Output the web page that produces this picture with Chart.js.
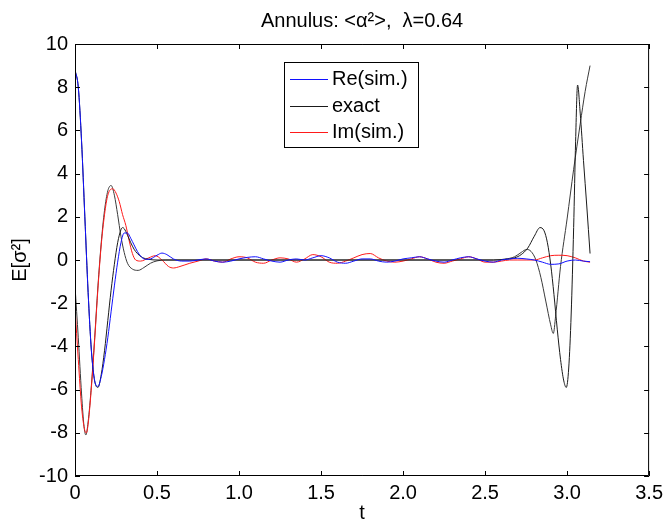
<!DOCTYPE html>
<html>
<head>
<meta charset="utf-8">
<title>Annulus</title>
<script src="https://cdn.jsdelivr.net/npm/chart.js@4/dist/chart.umd.min.js"></script>
<style>
  html, body { margin: 0; padding: 0; background: #fff; }
  canvas { display: block; }
</style>
</head>
<body>
<canvas id="chart" width="668" height="528"></canvas>
<script>
// values
const TITLE = 'Annulus: <α²>,  λ=0.64';
const X_LABEL = 't';
const Y_LABEL = 'E[σ²]';
const X_TICKS = [0, 0.5, 1, 1.5, 2, 2.5, 3, 3.5];
const Y_TICKS = [-10, -8, -6, -4, -2, 0, 2, 4, 6, 8, 10];

const reSimT = [0, 0.02, 0.04, 0.06, 0.08, 0.10, 0.12, 0.14, 0.16, 0.18, 0.20, 0.22, 0.24, 0.26, 0.28, 0.30,
  0.32, 0.34, 0.36, 0.38, 0.40, 0.43, 0.46, 0.50, 0.53, 0.56, 0.60, 0.65, 0.70, 0.75, 0.80, 0.85, 0.90, 0.95,
  1.00, 1.05, 1.10, 1.15, 1.20, 1.25, 1.30, 1.35, 1.40, 1.45, 1.50, 1.55, 1.60, 1.65, 1.70, 1.75, 1.80, 1.85,
  1.90, 1.95, 2.00, 2.05, 2.10, 2.15, 2.20, 2.25, 2.30, 2.35, 2.40, 2.45, 2.50, 2.55, 2.60, 2.65, 2.70, 2.75,
  2.80, 2.85, 2.90, 2.95, 3.00, 3.05, 3.10, 3.14];
const reSimVals = [8.8, 8.0, 5.5, 2.0, -1.5, -4.2, -5.6, -5.85, -5.4, -4.6, -3.6, -2.4, -1.2, -0.1, 0.8, 1.25,
  1.25, 1.0, 0.7, 0.4, 0.18, 0.03, 0.05, 0.22, 0.32, 0.25, 0.05, -0.05, -0.05, 0.0, 0.05, -0.05, -0.1, -0.05,
  0.05, 0.12, 0.15, 0.05, -0.05, -0.1, 0.0, 0.05, 0.0, 0.1, 0.2, 0.1, -0.1, -0.15, -0.05, 0.05, 0.05, -0.05,
  -0.1, -0.05, 0.05, 0.1, 0.15, 0.05, -0.05, -0.1, 0.0, 0.1, 0.15, 0.05, -0.05, -0.1, 0.0, 0.05, 0.08, 0.05,
  0.0, -0.1, -0.2, -0.18, -0.05, 0.0, -0.05, -0.08];

const exactReT = [0, 0.02, 0.04, 0.06, 0.08, 0.10, 0.12, 0.14, 0.16, 0.18, 0.20, 0.22, 0.24, 0.26, 0.28, 0.29,
  0.30, 0.32, 0.34, 0.36, 0.38, 0.41, 0.45, 0.50, 2.55, 2.62, 2.68, 2.72, 2.76, 2.80, 2.835, 2.86, 2.88, 2.90,
  2.92, 2.94, 2.96, 2.98, 2.995, 3.01, 3.025, 3.04, 3.052, 3.064, 3.08, 3.10, 3.12, 3.14];
const exactReVals = [8.8, 8.0, 5.5, 2.0, -1.5, -4.2, -5.6, -5.9, -5.3, -4.2, -2.8, -1.4, -0.2, 0.8, 1.4, 1.5,
  1.45, 1.15, 0.8, 0.5, 0.3, 0.12, 0.03, 0.0, 0.0, 0.03, 0.1, 0.25, 0.55, 1.1, 1.5, 1.35, 0.8, -0.2,
  -1.6, -3.2, -4.6, -5.6, -5.9, -5.0, -2.5, 1.5, 5.5, 8.1, 6.8, 4.6, 2.5, 0.3];

const imSimT = [0, 0.02, 0.04, 0.06, 0.07, 0.08, 0.10, 0.12, 0.14, 0.16, 0.18, 0.20, 0.23, 0.25, 0.27, 0.29,
  0.31, 0.33, 0.35, 0.37, 0.40, 0.45, 0.49, 0.53, 0.57, 0.60, 0.64, 0.70, 0.75, 0.80, 0.85, 0.90, 0.95, 1.00,
  1.05, 1.10, 1.15, 1.20, 1.25, 1.30, 1.35, 1.40, 1.45, 1.50, 1.55, 1.60, 1.65, 1.70, 1.75, 1.80, 1.85, 1.90,
  1.95, 2.00, 2.05, 2.10, 2.15, 2.20, 2.25, 2.30, 2.35, 2.40, 2.45, 2.50, 2.55, 2.60, 2.65, 2.70, 2.75, 2.80,
  2.85, 2.90, 2.95, 3.00, 3.05, 3.10, 3.14];
const imSimVals = [-2.2, -4.6, -6.8, -7.9, -8.0, -7.6, -5.9, -3.7, -1.3, 0.7, 2.1, 3.0, 3.3, 3.1, 2.7, 2.1,
  1.6, 0.9, 0.3, 0.0, -0.05, 0.1, 0.2, 0.0, -0.3, -0.37, -0.3, -0.15, -0.05, 0.05, -0.05, -0.1, 0.05, 0.15,
  0.1, -0.1, -0.15, 0.0, 0.1, 0.05, -0.1, 0.05, 0.25, 0.15, -0.1, -0.15, -0.05, 0.1, 0.25, 0.3, 0.1, -0.05,
  -0.1, -0.05, 0.05, 0.15, 0.05, -0.1, -0.15, -0.05, 0.05, 0.15, 0.05, -0.1, -0.1, -0.05, 0.0, 0.0, 0.0, 0.0,
  0.1, 0.2, 0.22, 0.2, 0.1, -0.05, -0.1];

const exactImT = [0, 0.02, 0.04, 0.055, 0.066, 0.08, 0.10, 0.12, 0.14, 0.16, 0.18, 0.20, 0.22, 0.24, 0.26,
  0.28, 0.30, 0.32, 0.35, 0.385, 0.42, 0.46, 0.50, 0.55, 2.55, 2.62, 2.68, 2.72, 2.754, 2.78, 2.81, 2.84,
  2.87, 2.90, 2.916, 2.93, 2.96, 3.00, 3.04, 3.08, 3.11, 3.14];
const exactImVals = [-1.2, -3.6, -6.2, -7.7, -8.1, -7.5, -5.8, -3.6, -1.2, 0.8, 2.3, 3.2, 3.45, 3.0, 2.1,
  1.1, 0.35, -0.15, -0.42, -0.48, -0.35, -0.15, -0.04, 0.0, 0.0, 0.04, 0.15, 0.35, 0.49, 0.4, 0.0, -0.8,
  -1.9, -3.0, -3.4, -2.6, -0.3, 1.9, 4.2, 6.3, 7.8, 9.0];

const FONT = "'Liberation Sans', Arial, sans-serif";

function toPoints(ts, vals) {
  return ts.map((t, i) => ({ x: t, y: vals[i] }));
}

function series(label, color, ts, vals, inLegend) {
  return {
    label,
    data: toPoints(ts, vals),
    borderColor: color,
    borderWidth: 1,
    pointRadius: 0,
    fill: false,
    cubicInterpolationMode: 'monotone',
    inLegend,
  };
}

// matlab-ish box: frame, inward ticks on all sides, legend box inside the axes
const boxPlugin = {
  id: 'box',
  afterDatasetsDraw(chart) {
    const { ctx, chartArea: a, scales } = chart;
    const tick = 5;
    ctx.save();
    ctx.strokeStyle = '#000';
    ctx.lineWidth = 1;
    ctx.beginPath();
    ctx.rect(a.left + 0.5, a.top + 0.5, a.right - a.left - 1, a.bottom - a.top - 1);
    X_TICKS.forEach(v => {
      const px = Math.round(scales.x.getPixelForValue(v)) + 0.5;
      ctx.moveTo(px, a.bottom); ctx.lineTo(px, a.bottom - tick);
      ctx.moveTo(px, a.top); ctx.lineTo(px, a.top + tick);
    });
    Y_TICKS.forEach(v => {
      const py = Math.round(scales.y.getPixelForValue(v)) + 0.5;
      ctx.moveTo(a.left, py); ctx.lineTo(a.left + tick, py);
      ctx.moveTo(a.right, py); ctx.lineTo(a.right - tick, py);
    });
    ctx.stroke();

    // legend
    const items = chart.data.datasets.filter(d => d.inLegend);
    const bx = 284, by = 62, bw = 134, bh = 85, rowH = 26.5;
    ctx.fillStyle = '#fff';
    ctx.fillRect(bx, by, bw, bh);
    ctx.strokeStyle = '#000';
    ctx.strokeRect(bx + 0.5, by + 0.5, bw, bh);
    ctx.font = '20px ' + FONT;
    ctx.textBaseline = 'middle';
    items.forEach((d, i) => {
      const y = Math.round(by + 17 + i * rowH) + 0.5;
      ctx.beginPath();
      ctx.strokeStyle = d.borderColor;
      ctx.moveTo(bx + 6, y); ctx.lineTo(bx + 44, y);
      ctx.stroke();
      ctx.fillStyle = '#000';
      ctx.fillText(d.label, bx + 48, y);
    });
    ctx.restore();
  },
};

new Chart(document.getElementById('chart'), {
  type: 'line',
  data: {
    datasets: [
      series('Re(sim.)', '#1010ff', reSimT, reSimVals, true),
      series('exact', '#1a1a1a', exactReT, exactReVals, true),
      series('Im(sim.)', '#ff1a1a', imSimT, imSimVals, true),
      series('exact Im', '#3a3a3a', exactImT, exactImVals, false),
    ],
  },
  options: {
    responsive: false,
    devicePixelRatio: 1,
    animation: false,
    events: [],
    layout: { padding: { left: 0, right: 17, top: 0, bottom: 0 } },
    plugins: {
      legend: { display: false },
      tooltip: { enabled: false },
      title: {
        display: true,
        text: TITLE,
        fullSize: false,
        color: '#000',
        font: { family: FONT, size: 20, weight: 'normal', lineHeight: 1.2 },
        padding: { top: 9, bottom: 11 },
      },
    },
    scales: {
      x: {
        type: 'linear',
        min: 0,
        max: 3.5,
        afterFit: s => { s.height = 52; },
        grid: { display: false, drawTicks: false },
        border: { display: false },
        ticks: {
          stepSize: 0.5,
          padding: 5,
          color: '#000',
          maxRotation: 0,
          font: { family: FONT, size: 20 },
        },
        title: {
          display: true,
          text: X_LABEL,
          color: '#000',
          font: { family: FONT, size: 20 },
          padding: { top: 0, bottom: 3 },
        },
      },
      y: {
        type: 'linear',
        min: -10,
        max: 10,
        afterFit: s => { s.width = 75; },
        grid: { display: false, drawTicks: false },
        border: { display: false },
        ticks: {
          stepSize: 2,
          padding: 7,
          color: '#000',
          font: { family: FONT, size: 20 },
        },
        title: {
          display: true,
          text: Y_LABEL,
          color: '#000',
          font: { family: FONT, size: 20 },
          padding: { top: 8, bottom: 0 },
        },
      },
    },
  },
  plugins: [boxPlugin],
});
</script>
</body>
</html>
